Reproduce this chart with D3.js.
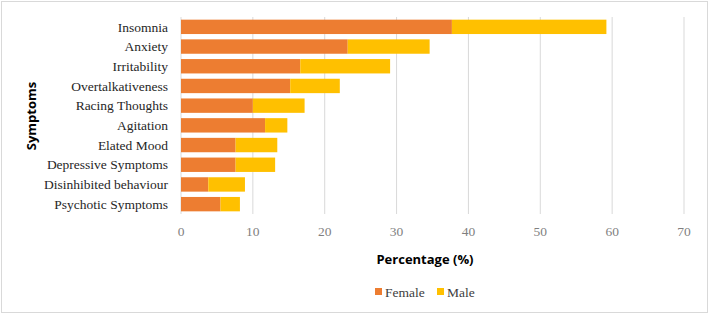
<html>
<head>
<meta charset="UTF-8">
<script src="https://d3js.org/d3.v7.min.js"></script>
<style>
  body { margin: 0; background: #fff; }
</style>
</head>
<body>
<svg id="chart" width="709" height="316"></svg>
<script>
// data
let symptoms = ["Insomnia", "Anxiety", "Irritability", "Overtalkativeness", "Racing Thoughts",
                "Agitation", "Elated Mood", "Depressive Symptoms", "Disinhibited behaviour", "Psychotic Symptoms"];
let female = [37.7, 23.2, 16.6, 15.2, 10.0, 11.7, 7.6, 7.6, 3.8, 5.5];
let male   = [21.5, 11.4, 12.5, 6.9, 7.2, 3.1, 5.8, 5.5, 5.1, 2.7];
let xTicks = [0, 10, 20, 30, 40, 50, 60, 70];
let seriesNames = ["Female", "Male"];
let seriesColors = ["#ED7D31", "#FFC000"];

let serif = "'Liberation Serif', 'DejaVu Serif', serif";
let sans = "'Open Sans', sans-serif";

let svg = d3.select("svg#chart");
let width = +svg.attr("width");
let height = +svg.attr("height");
let margins = {top: 17, right: 25, bottom: 102, left: 181};

// outer border
svg.append("rect")
   .attr("x", 1.5).attr("y", 1.5)
   .attr("width", width - 3).attr("height", height - 5)
   .attr("fill", "none")
   .attr("stroke", "#d9d9d9");

let xScale = d3.scaleLinear()
               .domain([0, 70])
               .range([margins.left, width - margins.right]);

let yScale = d3.scaleBand()
               .domain(symptoms)
               .range([margins.top, height - margins.bottom])
               .paddingInner(0.27)
               .paddingOuter(0.135);

// vertical gridlines
xTicks.forEach(t => {
    svg.append("line")
       .attr("x1", xScale(t)).attr("x2", xScale(t))
       .attr("y1", margins.top).attr("y2", height - margins.bottom)
       .attr("stroke", "#d9d9d9")
       .attr("stroke-width", 1);
});

// stacked bars
let rows = symptoms.map((s, i) => ({symptom: s, Female: female[i], Male: male[i]}));
let stack = d3.stack().keys(seriesNames)(rows);

stack.forEach((layer, k) => {
    svg.append("g")
       .selectAll("rect")
       .data(layer)
       .join("rect")
       .attr("x", d => xScale(d[0]))
       .attr("y", d => yScale(d.data.symptom))
       .attr("width", d => xScale(d[1]) - xScale(d[0]))
       .attr("height", yScale.bandwidth())
       .attr("fill", seriesColors[k]);
});

// category labels
svg.append("g")
   .selectAll("text")
   .data(symptoms)
   .join("text")
   .attr("x", 168)
   .attr("y", d => yScale(d) + yScale.bandwidth() / 2)
   .attr("dy", "0.35em")
   .attr("text-anchor", "end")
   .style("font-family", serif)
   .style("font-size", "13.5px")
   .attr("fill", "#262626")
   .text(d => d);

// x tick labels
svg.append("g")
   .selectAll("text")
   .data(xTicks)
   .join("text")
   .attr("x", d => xScale(d))
   .attr("y", 231)
   .attr("dy", "0.35em")
   .attr("text-anchor", "middle")
   .style("font-family", serif)
   .style("font-size", "13.5px")
   .attr("fill", "#7f7f7f")
   .text(d => d);

// axis titles
svg.append("text")
   .attr("x", 425)
   .attr("y", 259)
   .attr("dy", "0.35em")
   .attr("text-anchor", "middle")
   .style("font-family", sans)
   .style("font-weight", "bold")
   .style("font-size", "13px")
   .attr("fill", "#000")
   .text("Percentage (%)");

svg.append("text")
   .attr("transform", "translate(31,116) rotate(-90)")
   .attr("dy", "0.35em")
   .attr("text-anchor", "middle")
   .style("font-family", sans)
   .style("font-weight", "bold")
   .style("font-size", "13px")
   .attr("fill", "#000")
   .text("Symptoms");

// legend
let legendX = [375, 437];
seriesNames.forEach((name, k) => {
    svg.append("rect")
       .attr("x", legendX[k]).attr("y", 288)
       .attr("width", 7).attr("height", 7)
       .attr("fill", seriesColors[k]);
    svg.append("text")
       .attr("x", legendX[k] + 10)
       .attr("y", 292)
       .attr("dy", "0.35em")
       .style("font-family", serif)
       .style("font-size", "13.5px")
       .attr("fill", "#404040")
       .text(name);
});
</script>
</body>
</html>
